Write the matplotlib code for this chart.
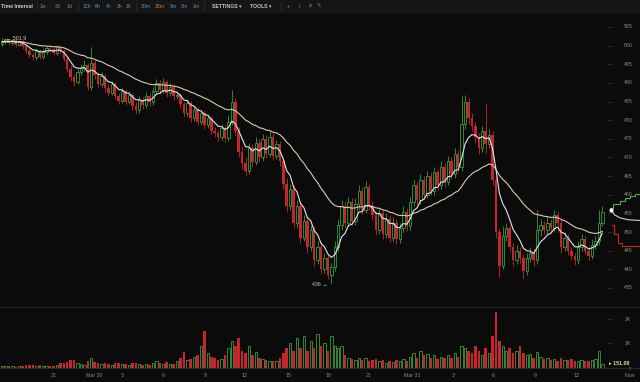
import matplotlib.pyplot as plt
import pandas as pd

plt.rcParams['font.family'] = ['Liberation Sans', 'DejaVu Sans']

# 15m candles, oldest first
opens = [500.4, 501.0, 501.8, 500.6, 501.5, 500.2, 501.2, 499.8, 498.6, 497.4,
         496.8, 498.6, 497.0, 498.4, 499.3, 499.0, 498.0, 499.5, 498.5, 496.5,
         493.8, 491.5, 490.2, 492.8, 494.0, 494.8, 489.0, 495.2, 492.0, 489.8,
         491.8, 488.5, 487.4, 489.6, 486.5, 485.2, 487.8, 485.0, 486.8, 483.8,
         482.8, 485.5, 484.0, 486.6, 484.8, 487.8, 490.0, 488.0, 490.2, 487.2,
         489.0, 486.4, 486.8, 484.2, 481.8, 484.6, 480.6, 482.8, 479.6, 481.8,
         478.6, 480.6, 477.2, 476.6, 475.4, 478.0, 475.2, 479.5, 485.0, 477.0,
         471.5, 468.5, 466.5, 472.5, 468.8, 474.0, 470.0, 475.0, 471.0, 475.5,
         470.5, 473.5, 469.0, 463.0, 457.0, 461.5, 452.5, 457.0, 448.5, 453.0,
         446.0, 450.5, 442.5, 446.0, 440.0, 443.0, 438.5, 440.5, 446.0, 452.0,
         457.0, 452.5, 458.0, 453.0, 457.5, 461.0, 456.0, 462.0, 457.0, 454.5,
         450.5, 455.0, 449.5, 453.5, 448.5, 452.5, 448.0, 451.0, 455.5, 451.5,
         458.0, 462.5, 458.5, 464.0, 460.0, 465.0, 461.0, 466.0, 462.5, 467.5,
         463.5, 469.0, 465.5, 471.0, 467.5, 479.0, 485.0, 480.5, 478.5, 475.5,
         472.5, 477.0, 473.5, 476.0, 464.0, 450.0, 441.0, 449.0, 451.0, 446.0,
         442.5, 445.0, 443.0, 439.5, 443.0, 444.5, 442.5, 450.5, 452.0, 450.5,
         452.5, 451.0, 454.5, 452.5, 446.0, 448.5, 445.0, 443.5, 442.5, 446.0,
         448.0, 445.0, 443.5, 446.5, 447.5, 452.5]
highs = [501.9, 501.9, 501.8, 501.8, 501.7, 501.6, 501.5, 500.4, 499.3, 498.0,
         499.2, 499.1, 499.0, 499.9, 500.0, 499.6, 500.2, 500.0, 499.0, 497.2,
         494.8, 492.5, 493.6, 495.0, 496.0, 495.4, 499.6, 496.0, 493.0, 492.8,
         492.5, 489.6, 490.5, 490.2, 487.4, 488.6, 488.4, 487.8, 487.4, 484.8,
         486.4, 486.2, 487.5, 487.2, 488.8, 491.0, 490.8, 491.2, 490.8, 490.0,
         489.6, 487.8, 487.4, 485.0, 485.6, 485.2, 483.8, 483.4, 482.8, 482.4,
         481.6, 481.2, 478.2, 477.4, 479.0, 478.8, 481.5, 488.0, 486.0, 478.2,
         473.0, 470.0, 474.0, 473.6, 475.5, 475.0, 476.4, 476.0, 477.0, 476.5,
         474.8, 474.5, 470.0, 464.5, 463.0, 462.5, 458.5, 458.0, 454.5, 454.2,
         452.0, 451.5, 447.5, 447.2, 444.5, 444.0, 441.8, 447.5, 453.5, 458.5,
         458.2, 459.5, 459.0, 459.0, 462.5, 462.2, 463.8, 463.0, 458.2, 455.6,
         456.5, 456.0, 455.0, 454.5, 454.0, 453.5, 452.5, 457.0, 456.5, 459.5,
         464.0, 463.5, 465.5, 465.0, 466.5, 466.0, 467.5, 467.0, 469.0, 468.5,
         470.5, 470.0, 472.5, 472.0, 486.5, 486.8, 486.0, 481.8, 479.6, 476.5,
         478.5, 484.5, 477.5, 477.0, 465.0, 451.0, 451.5, 452.5, 452.0, 447.0,
         446.5, 446.0, 444.0, 444.5, 446.0, 445.5, 456.0, 453.5, 453.0, 454.0,
         453.5, 456.0, 455.5, 453.5, 450.0, 449.5, 446.0, 444.5, 447.5, 449.5,
         449.0, 446.0, 448.0, 449.0, 456.0, 457.0]
lows = [499.8, 500.4, 500.1, 500.2, 499.6, 499.8, 499.2, 498.0, 496.8, 496.0,
        496.2, 496.3, 496.5, 497.8, 498.2, 497.4, 497.5, 497.9, 495.8, 493.0,
        490.5, 489.2, 489.6, 492.0, 493.2, 488.0, 488.2, 491.0, 488.8, 489.0,
        487.6, 486.4, 486.8, 485.6, 484.2, 484.6, 484.0, 484.2, 482.8, 481.6,
        482.0, 483.0, 483.2, 483.8, 484.0, 487.0, 487.0, 487.2, 486.2, 486.5,
        485.4, 485.6, 483.2, 480.8, 481.0, 479.6, 479.8, 478.6, 478.8, 477.6,
        477.8, 476.2, 475.6, 474.4, 474.6, 474.2, 474.4, 478.6, 476.0, 470.2,
        467.0, 465.0, 465.6, 467.5, 468.0, 468.8, 469.0, 469.8, 470.0, 469.2,
        469.6, 467.8, 461.5, 455.5, 456.0, 451.0, 451.2, 447.0, 447.5, 444.5,
        444.8, 441.0, 441.5, 438.8, 439.0, 437.5, 436.0, 439.5, 445.0, 450.5,
        451.0, 451.5, 451.8, 452.0, 456.0, 454.8, 455.0, 455.8, 453.2, 449.2,
        449.5, 448.2, 448.5, 447.2, 447.5, 446.8, 447.0, 450.0, 450.2, 450.5,
        457.0, 457.2, 457.5, 458.8, 459.0, 459.8, 460.0, 461.2, 461.5, 462.2,
        462.5, 464.2, 464.5, 466.2, 466.5, 477.5, 479.0, 477.0, 474.0, 471.0,
        471.5, 471.2, 472.5, 462.5, 448.5, 438.0, 440.0, 447.5, 445.0, 441.0,
        441.5, 441.8, 437.5, 438.5, 442.0, 441.0, 441.5, 449.0, 449.5, 449.5,
        449.8, 450.0, 450.0, 444.5, 445.0, 443.8, 442.5, 441.2, 441.5, 445.0,
        444.0, 442.5, 442.8, 445.5, 446.5, 451.5]
closes = [501.0, 501.8, 500.6, 501.5, 500.2, 501.2, 499.8, 498.6, 497.4, 496.8,
          498.6, 497.0, 498.4, 499.3, 499.0, 498.0, 499.5, 498.5, 496.5, 493.8,
          491.5, 490.2, 492.8, 494.0, 494.8, 489.0, 495.2, 492.0, 489.8, 491.8,
          488.5, 487.4, 489.6, 486.5, 485.2, 487.8, 485.0, 486.8, 483.8, 482.8,
          485.5, 484.0, 486.6, 484.8, 487.8, 490.0, 488.0, 490.2, 487.2, 489.0,
          486.4, 486.8, 484.2, 481.8, 484.6, 480.6, 482.8, 479.6, 481.8, 478.6,
          480.6, 477.2, 476.6, 475.4, 478.0, 475.2, 479.5, 485.0, 477.0, 471.5,
          468.5, 466.5, 472.5, 468.8, 474.0, 470.0, 475.0, 471.0, 475.5, 470.5,
          473.5, 469.0, 463.0, 457.0, 461.5, 452.5, 457.0, 448.5, 453.0, 446.0,
          450.5, 442.5, 446.0, 440.0, 443.0, 438.5, 440.5, 446.0, 452.0, 457.0,
          452.5, 458.0, 453.0, 457.5, 461.0, 456.0, 462.0, 457.0, 454.5, 450.5,
          455.0, 449.5, 453.5, 448.5, 452.5, 448.0, 451.0, 455.5, 451.5, 458.0,
          462.5, 458.5, 464.0, 460.0, 465.0, 461.0, 466.0, 462.5, 467.5, 463.5,
          469.0, 465.5, 471.0, 467.5, 479.0, 485.0, 480.5, 478.5, 475.5, 472.5,
          477.0, 473.5, 476.0, 464.0, 450.0, 441.0, 449.0, 451.0, 446.0, 442.5,
          445.0, 443.0, 439.5, 443.0, 444.5, 442.5, 450.5, 452.0, 450.5, 452.5,
          451.0, 454.5, 452.5, 446.0, 448.5, 445.0, 443.5, 442.5, 446.0, 448.0,
          445.0, 443.5, 446.5, 447.5, 452.5, 455.5]
volumes = [60, 80, 50, 70, 40, 60, 50, 90, 110, 100,
           70, 90, 60, 50, 70, 50, 90, 180, 200, 240,
           300, 330, 200, 150, 120, 260, 380, 220, 200, 150,
           180, 160, 120, 200, 180, 140, 160, 120, 200, 180,
           140, 100, 150, 120, 180, 260, 200, 160, 220, 140,
           160, 280, 380, 620, 300, 350, 420, 500, 900, 1500,
           600, 420, 380, 300, 350, 500, 800, 1100, 900, 1200,
           700, 600, 900, 500, 650, 400, 350, 300, 280, 250,
           260, 400, 600, 800, 1000, 700, 1200, 800, 1300, 700,
           1100, 800, 1400, 900, 1000, 700, 1300, 900, 800, 900,
           500, 400, 350, 300, 400, 300, 400, 250, 300, 350,
           250, 300, 200, 280, 220, 300, 250, 350, 280, 450,
           600, 400, 700, 500, 550, 400, 500, 350, 450, 380,
           500, 400, 600, 450, 900, 800, 700, 600, 900, 700,
           500, 800, 600, 1300, 2300, 1100, 900, 700, 800, 600,
           700, 900, 600, 500, 550, 400, 650, 450, 350, 400,
           300, 350, 280, 400, 320, 300, 350, 280, 250, 300,
           280, 250, 300, 350, 700, 151.08]

tick_pos = [14.9, 26.8, 35.0, 46.9, 59.2, 70.8, 83.4, 95.3, 107.0, 119.5,
            131.5, 143.1, 155.4, 167.6, 183.1]
tick_labels = ['21', 'Mar 30', '3', '6', '9', '12', '15', '18', '21', 'Mar 31',
               '3', '6', '9', '12', 'Now']
price_ticks = [505, 500, 495, 490, 485, 480, 475, 470, 465, 460, 455, 450,
               445, 440, 435]
vol_ticks = [1000, 2000]
vol_tick_labels = ['1K', '2K']

# order book depth lines to the right of the last candle
ask_x = [177.3, 178.2, 178.2, 180.2, 180.2, 181.6, 181.6, 183.1, 183.1, 184.5, 184.5, 186.0]
ask_y = [456.5, 456.5, 457.5, 457.5, 458.2, 458.2, 459.0, 459.0, 459.6, 459.6, 460.3, 460.3]
bid_x = [177.9, 178.5, 178.5, 179.6, 179.6, 180.8, 180.8, 186.0]
bid_y = [452.0, 452.0, 449.5, 449.5, 447.0, 447.0, 446.2, 446.2]
mid_x = [177.6, 178.6, 180.2, 182.5, 186.0]
mid_y = [455.9, 454.6, 453.8, 453.3, 453.1]

bg = '#0b0b0b'
up = '#3d9a3d'
down = '#c4262b'
txt = '#8a8a8a'

n = len(closes)
xs = list(range(n))
is_up = [c >= o for o, c in zip(opens, closes)]

fig = plt.figure(figsize=(6.4, 3.82), dpi=100)
fig.patch.set_facecolor(bg)

# price panel
ax = fig.add_axes([0, 75 / 382, 1, 295 / 382])
ax.set_facecolor(bg)
ax.set_xlim(-0.6, 186.0)
ax.set_ylim(429.9, 509.0)
ax.axis('off')

w = 0.72
for i in xs:
    col = up if is_up[i] else down
    ax.vlines(i, lows[i], highs[i], color=col, lw=0.6, zorder=2)
    bot = min(opens[i], closes[i])
    hgt = max(abs(closes[i] - opens[i]), 0.25)
    if is_up[i]:
        ax.bar(i, hgt, bottom=bot, width=w, facecolor=bg, edgecolor=col, lw=0.6, zorder=3)
    else:
        ax.bar(i, hgt, bottom=bot, width=w, color=col, lw=0, zorder=3)

s = pd.Series(closes)
ma_fast = s.ewm(span=7, adjust=False).mean()
ma_slow = s.ewm(span=30, adjust=False).mean()
ax.plot(xs, ma_slow, color='#d9cbb0', lw=0.8, zorder=4)
ax.plot(xs, ma_fast, color='#dde6ee', lw=0.8, zorder=5)

ax.plot(ask_x, ask_y, color='#4caf50', lw=0.8)
ax.plot(bid_x, bid_y, color='#c62828', lw=0.8)
ax.plot(mid_x, mid_y, color='#cfcfcf', lw=0.8)
ax.plot([mid_x[0]], [mid_y[0]], 'o', color='white', ms=2)

ytr = ax.get_yaxis_transform()
for p in price_ticks:
    ax.text(628 / 640, p, str(p), color=txt, fontsize=3.8, ha='center', va='center', transform=ytr)
    ax.plot([608 / 640, 612 / 640], [p, p], color='#3a3a3a', lw=0.5, transform=ytr)

hi_i = highs.index(max(highs))
lo_i = lows.index(min(lows))
ax.text(hi_i + 1.2, max(highs), '\u2190 %.1f' % max(highs), color='#cfcfcf', fontsize=3.8,
        ha='left', va='center')
ax.text(lo_i - 1.0, min(lows), '%d \u2192' % round(min(lows)), color='#cfcfcf', fontsize=3.8,
        ha='right', va='center')

# volume panel
axv = fig.add_axes([0, 14.5 / 382, 1, 60.5 / 382])
axv.set_facecolor(bg)
axv.set_xlim(-0.6, 186.0)
axv.set_ylim(0, 2500)
axv.axis('off')
for i in xs:
    col = up if is_up[i] else down
    if is_up[i]:
        axv.bar(i, volumes[i], width=w, facecolor=bg, edgecolor=col, lw=0.6)
    else:
        axv.bar(i, volumes[i], width=w, color=col, lw=0)

vtr = axv.get_yaxis_transform()
for v, lab in zip(vol_ticks, vol_tick_labels):
    axv.text(628 / 640, v, lab, color=txt, fontsize=3.8, ha='center', va='center', transform=vtr)
    axv.plot([608 / 640, 612 / 640], [v, v], color='#3a3a3a', lw=0.5, transform=vtr)
axv.text(609 / 640, 180, '\u25b8 %.2f' % volumes[-1], color='#e6e08a', fontsize=3.8,
         ha='left', va='center', transform=vtr, fontweight='bold')
axv.text(630 / 640, -60, '0', color=txt, fontsize=3.2, ha='center', va='center', transform=vtr)

xtr = axv.get_xaxis_transform()
for xp, lab in zip(tick_pos, tick_labels):
    axv.text(xp, -0.125, lab, color=txt, fontsize=3.8, ha='center', va='center', transform=xtr)

# panel separators
fig.add_artist(plt.Line2D([0, 1], [75 / 382, 75 / 382], color='#2e2e2e', lw=0.6))
fig.add_artist(plt.Line2D([0, 1], [14.5 / 382, 14.5 / 382], color='#2e2e2e', lw=0.6))

# toolbar
fig.add_artist(plt.Rectangle((0, 1 - 12 / 382), 1, 12 / 382, color='#151515', transform=fig.transFigure))
bar_items = [('Time Interval', 1, '#d0d0d0', True), ('1w', 40, '#5b8fc7', False),
             ('3d', 55, '#5b8fc7', False), ('1d', 67, '#5b8fc7', False),
             ('12h', 83, '#5b8fc7', False), ('6h', 95, '#5b8fc7', False),
             ('4h', 106, '#5b8fc7', False), ('2h', 117, '#5b8fc7', False),
             ('1h', 126, '#5b8fc7', False), ('30m', 141, '#5b8fc7', False),
             ('15m', 155, '#e0803a', False), ('5m', 170, '#5b8fc7', False),
             ('3m', 181, '#5b8fc7', False), ('1m', 193, '#5b8fc7', False),
             ('SETTINGS \u25be', 212, '#c8c8c8', True), ('TOOLS \u25be', 250, '#c8c8c8', True),
             ('+', 287, '#9a9a9a', False), ('/', 299, '#9a9a9a', False),
             ('\u2261', 309, '#9a9a9a', False), ('\u270e', 317, '#9a9a9a', False)]
for label, px, col, bold in bar_items:
    fig.text(px / 640, 1 - 6 / 382, label, color=col, fontsize=3.7, ha='left', va='center',
             fontweight='bold' if bold else 'normal')
for px in [37, 78, 136, 204, 281]:
    fig.add_artist(plt.Line2D([px / 640, px / 640], [1 - 10 / 382, 1 - 2 / 382], color='#333333', lw=0.5))

plt.savefig('out.png', dpi=100, facecolor=bg)
